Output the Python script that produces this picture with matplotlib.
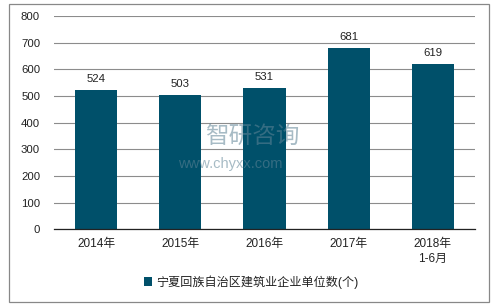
import matplotlib
matplotlib.use("Agg")
import matplotlib.pyplot as plt
from matplotlib.patches import Rectangle

plt.rcParams['font.family'] = ['Liberation Sans', 'Noto Sans CJK SC', 'DejaVu Sans']

categories = ['2014年', '2015年', '2016年', '2017年', '2018年\n1-6月']
values = [524, 503, 531, 681, 619]
series_name = '宁夏回族自治区建筑业企业单位数(个)'
yticks = [0, 100, 200, 300, 400, 500, 600, 700, 800]

bar_color = '#00506A'
W, H = 496, 306
fig = plt.figure(figsize=(W/100, H/100), dpi=100)
fig.patch.set_facecolor('white')

# outer border
fig.patches.append(Rectangle((9/W, 4/H), 480/W, 298/H, transform=fig.transFigure,
                             fill=False, edgecolor='#888888', linewidth=0.9))

ax = fig.add_axes([54/W, 1 - 229.3/H, 421/W, (229.3-16)/H])
x = list(range(len(categories)))
bars = ax.bar(x, values, width=0.5, color=bar_color, zorder=3, label=series_name)
ax.set_xlim(-0.5, len(categories) - 0.5)
ax.set_ylim(0, 800)
ax.set_yticks(yticks)
ax.set_yticklabels([str(t) for t in yticks], fontsize=8.2, color='#222222')
ax.set_xticks(x)
ax.set_xticklabels(categories, fontsize=8.5, color='#222222', linespacing=1.35)
ax.tick_params(axis='both', length=0, pad=6)
ax.tick_params(axis='y', pad=10)
ax.grid(axis='y', color='#8c8c8c', linewidth=0.8, zorder=0)
for s in ['top', 'right', 'left']:
    ax.spines[s].set_visible(False)
ax.spines['bottom'].set_color('#222222')
ax.spines['bottom'].set_linewidth(0.9)
ax.spines['bottom'].set_zorder(4)

for xi, v in zip(x, values):
    ax.text(xi, v + 22, str(v), ha='center', va='bottom', fontsize=8.2, color='#222222')

# watermark
fig.text(205/W, 1 - 137/H, '智研咨询', fontsize=17, color='#5f8496', alpha=0.55,
         ha='left', va='center', family=['Noto Sans CJK SC'])
fig.text(178/W, 1 - 164/H, 'www.chyxx.com', fontsize=10.5, color='#5f8496', alpha=0.55,
         ha='left', va='center')

leg = fig.legend(handles=[bars], labels=[series_name], loc='center',
                 bbox_to_anchor=(251/W, 1 - 282/H), frameon=False, fontsize=8.7,
                 handlelength=0.65, handleheight=0.65, handletextpad=0.35)
for t in leg.get_texts():
    t.set_color('#222222')

fig.savefig('out.png', dpi=100)
